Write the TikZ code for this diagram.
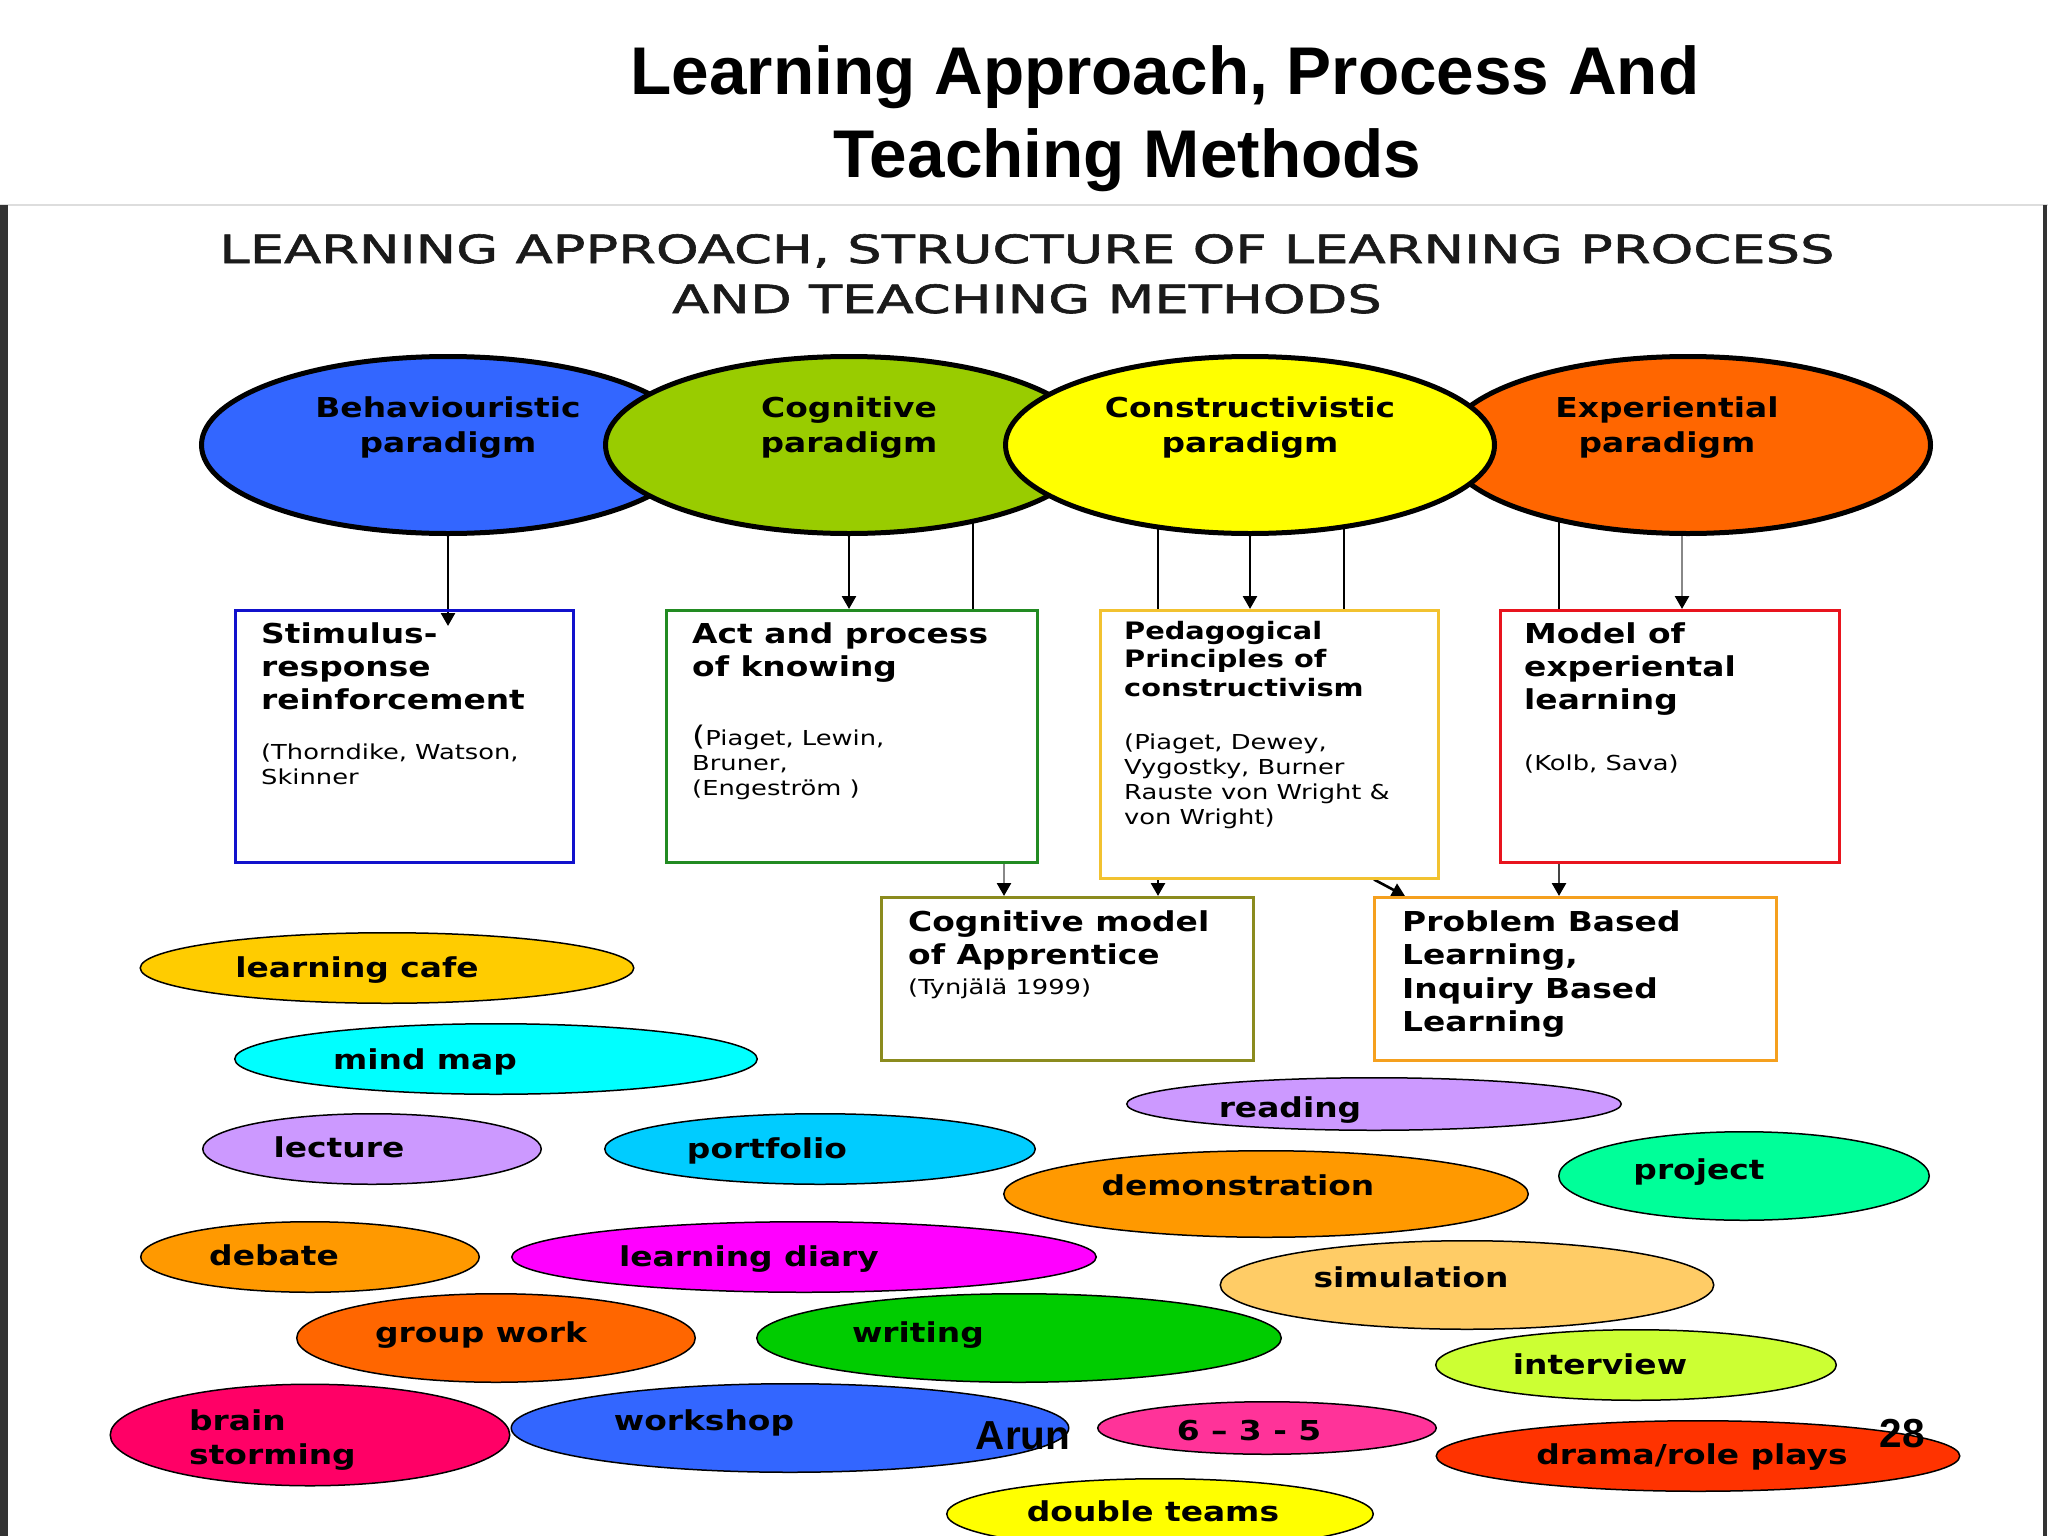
\documentclass[tikz,border=0pt]{standalone}
\usepackage{fontspec}
\usetikzlibrary{shapes.geometric,arrows.meta,backgrounds,calc}
\newfontfamily\titlefont{Liberation Sans}
\newfontfamily\subfont[FakeStretch=1.4,FakeBold=1.5]{DejaVu Sans}
\newfontfamily\labfont[FakeStretch=1.2]{DejaVu Sans}
\newfontfamily\reffont[FakeStretch=1.25]{DejaVu Sans}
\definecolor{cBlue}{HTML}{3366FF}
\definecolor{cGreen}{HTML}{99CC00}
\definecolor{cYellow}{HTML}{FFFF00}
\definecolor{cOrange}{HTML}{FF6600}
\definecolor{bOne}{HTML}{1111CC}
\definecolor{bTwo}{HTML}{228B22}
\definecolor{bThree}{HTML}{F2C230}
\definecolor{bFour}{HTML}{E8141E}
\definecolor{bFive}{HTML}{8B8B1E}
\definecolor{bSix}{HTML}{F5A01E}
\definecolor{mLc}{HTML}{FFCC00}
\definecolor{mMm}{HTML}{00FFFF}
\definecolor{mLec}{HTML}{CC99FF}
\definecolor{mPf}{HTML}{00CCFF}
\definecolor{mDem}{HTML}{FF9900}
\definecolor{mPrj}{HTML}{00FF99}
\definecolor{mLd}{HTML}{FF00FF}
\definecolor{mSim}{HTML}{FFCC66}
\definecolor{mGw}{HTML}{FF6600}
\definecolor{mWr}{HTML}{00CC00}
\definecolor{mIv}{HTML}{CCFF33}
\definecolor{mBs}{HTML}{FF0066}
\definecolor{mWs}{HTML}{3366FF}
\definecolor{mSix}{HTML}{FF3399}
\definecolor{mDr}{HTML}{FF3300}
\definecolor{mDt}{HTML}{FFFF00}
\definecolor{subgray}{HTML}{1A1A1A}
\definecolor{bargray}{HTML}{333333}
\definecolor{rulegray}{HTML}{DDDDDD}
\definecolor{conngray}{HTML}{888888}
\definecolor{conndark}{HTML}{444444}
\tikzset{
 bigell/.style={ellipse,draw=black,line width=5pt,inner sep=0pt},
 smell/.style={ellipse,draw=black,line width=1.5pt,inner sep=0pt},
 sbox/.style={rectangle,line width=2.5pt,inner sep=0pt,anchor=north west},
 conn/.style={line width=2.6pt,-{Triangle[length=13pt,width=14pt,color=black]}},
 bare/.style={line width=2.6pt},
 ptext/.style={font=\labfont\bfseries\fontsize{27.4pt}{35pt}\selectfont,align=center,inner sep=0pt,anchor=north},
 mtext/.style={font=\labfont\bfseries\fontsize{27.4pt}{33pt}\selectfont,align=left,inner sep=0pt,anchor=north west},
 mtextsm/.style={font=\labfont\bfseries\fontsize{24pt}{28.5pt}\selectfont,align=left,inner sep=0pt,anchor=north west},
 rtext/.style={font=\reffont\fontsize{20.6pt}{25pt}\selectfont,align=left,inner sep=0pt,anchor=north west},
 lab/.style={font=\labfont\bfseries\fontsize{27.4pt}{34pt}\selectfont,inner sep=0pt,text height=20pt,text depth=7pt},
 labml/.style={font=\labfont\bfseries\fontsize{27.4pt}{34pt}\selectfont,inner sep=0pt,align=left,anchor=west},
 bigtitle/.style={font=\titlefont\bfseries\fontsize{67.5pt}{80pt}\selectfont,inner sep=0pt,anchor=base},
 subtitle/.style={font=\subfont\fontsize{38.8pt}{50pt}\selectfont,text=subgray,inner sep=0pt,anchor=base},
 footer/.style={font=\titlefont\bfseries\fontsize{40.5pt}{48pt}\selectfont,inner sep=0pt,anchor=base},
}
\newcommand\methnode[9]{%
 \node[smell,fill=#6,minimum width={2*#4-1.5},minimum height={2*#5-1.5}] (#1) at (#2,#3) {};
 \node[lab] (#1t) at (#7,#8+3) {#9};}
\begin{document}
\begin{tikzpicture}[x=1pt,y=-1pt]
\useasboundingbox (0,0) rectangle (2048,1536);
% frame
\draw[rulegray,line width=2pt] (0,205) -- (2048,205);
\fill[bargray] (0,205) rectangle (8,1536);
\fill[bargray] (2043,205) rectangle (2047,1536);
% titles
\node[bigtitle] (title1) at (1165,95) {Learning Approach, Process And};
\node[bigtitle] (title2) at (1127.5,177) {Teaching Methods};
\node[subtitle] (sub1) at (1027,263) {LEARNING APPROACH, STRUCTURE OF LEARNING PROCESS};
\node[subtitle] (sub2) at (1027,313) {AND TEACHING METHODS};
% paradigms
\node[bigell,fill=cBlue,minimum width=493,minimum height=177] (e1) at (448,445) {};
\node[bigell,fill=cGreen,minimum width=487,minimum height=177] (e2) at (849,445) {};
\node[bigell,fill=cOrange,minimum width=485,minimum height=177] (e4) at (1688,445) {};
\node[bigell,fill=cYellow,minimum width=489,minimum height=177] (e3) at (1250,445) {};
\node[ptext] (e1t) at (448,396) {Behaviouristic\\paradigm};
\node[ptext] (e2t) at (849,396) {Cognitive\\paradigm};
\node[ptext] (e3t) at (1250,396) {Constructivistic\\paradigm};
\node[ptext] (e4t) at (1667,396) {Experiential\\paradigm};
% boxes
\node[sbox,draw=bOne,minimum width=338,minimum height=252] (s1) at (234,609) {};
\node[sbox,draw=bTwo,minimum width=371,minimum height=252] (s2) at (665,609) {};
\node[sbox,draw=bThree,minimum width=338,minimum height=268] (s3) at (1099,609) {};
\node[sbox,draw=bFour,minimum width=339,minimum height=252] (s4) at (1499,609) {};
\node[sbox,draw=bFive,minimum width=372,minimum height=163] (s5) at (880,896) {};
\node[sbox,draw=bSix,minimum width=402,minimum height=163] (s6) at (1373,896) {};
\node[mtext] (s1a) at (261,622) {Stimulus-\\response\\reinforcement};
\node[rtext] (s1b) at (261,744) {(Thorndike, Watson,\\Skinner};
\node[mtext] (s2a) at (692,622) {Act and process\\of knowing};
\node[rtext] (s2b) at (692,725) {{\fontsize{27pt}{25pt}\selectfont(}Piaget, Lewin,\\Bruner,\\(Engeström )};
\node[mtextsm] (s3a) at (1124,621) {Pedagogical\\Principles of\\constructivism};
\node[rtext] (s3b) at (1124,734) {(Piaget, Dewey,\\Vygostky, Burner\\Rauste von Wright \&\\von Wright)};
\node[mtext] (s4a) at (1524,622) {Model of\\experiental\\learning};
\node[rtext] (s4b) at (1524,755) {(Kolb, Sava)};
\node[mtext] (s5a) at (908,910) {Cognitive model\\of Apprentice};
\node[rtext] (s5b) at (908,979) {(Tynjälä 1999)};
\node[mtext,font=\labfont\bfseries\fontsize{27.4pt}{33.5pt}\selectfont] (s6a) at (1402,910) {Problem Based\\Learning,\\Inquiry Based\\Learning};
% helper coordinates
\coordinate (g2) at ($(e2.center)+(124,0)$);
\coordinate (y1) at ($(e3.center)+(-92,0)$);
\coordinate (y2) at ($(e3.center)+(94,0)$);
\coordinate (o1) at ($(e4.center)+(-129,0)$);
\coordinate (o2) at ($(e4.center)+(-6,0)$);
\coordinate (x1) at (1004,0);
\coordinate (x2) at (1158,0);
\coordinate (x3) at (1374,0);
\coordinate (x4) at (1405,0);
\coordinate (x5) at (1559,0);
\begin{pgfonlayer}{background}
\fill[white] (0,0) rectangle (2048,1536);
\draw[conn] (e1.center) -- ($(e1.center |- s1.north)+(0,17)$);
\draw[conn] (e2.center) -- (e2.center |- s2.north);
\draw[bare] (g2) -- (g2 |- s2.north);
\draw[bare] (y1) -- (y1 |- s3.north);
\draw[conn] (e3.center) -- (e3.center |- s3.north);
\draw[bare] (y2) -- (y2 |- s3.north);
\draw[bare] (o1) -- (o1 |- s4.north);
\draw[conn,draw=conngray] (o2) -- (o2 |- s4.north);
\draw[conn,draw=conngray] (x1 |- s2.south) -- (x1 |- s5.north);
\draw[conn] (x2 |- s3.south) -- (x2 |- s5.north);
\draw[conn] (x3 |- s3.south) -- (x4 |- s6.north);
\draw[conn,draw=conndark] (x5 |- s4.south) -- (x5 |- s6.north);
\end{pgfonlayer}
% methods
\methnode{lc}{387}{968}{247.5}{36}{mLc}{357}{968}{learning cafe}
\methnode{mm}{496}{1059}{262}{36}{mMm}{425}{1060}{mind map}
\methnode{lec}{372}{1149}{170}{36}{mLec}{339}{1148}{lecture}
\methnode{pf}{820}{1149}{216}{36}{mPf}{767}{1149}{portfolio}
\methnode{rd}{1374}{1104}{248}{27}{mLec}{1290}{1108}{reading}
\methnode{dem}{1266}{1194}{263}{44}{mDem}{1238}{1186}{demonstration}
\methnode{prj}{1744}{1176}{186}{45}{mPrj}{1699}{1170}{project}
\methnode{deb}{310}{1257}{170}{36}{mDem}{274}{1256}{debate}
\methnode{ld}{804}{1257}{293}{36}{mLd}{749}{1257}{learning diary}
\methnode{sim}{1467}{1285}{247.5}{45}{mSim}{1411}{1278}{simulation}
\methnode{gw}{496}{1338}{200}{45}{mGw}{481}{1333}{group work}
\methnode{wr}{1019}{1338}{263}{45}{mWr}{918}{1333}{writing}
\methnode{iv}{1636}{1365}{201}{36}{mIv}{1600}{1365}{interview}
\node[smell,fill=mBs,minimum width=399.5,minimum height=101.5] (bs) at (310,1435) {};
\node[labml] (bst) at (189,1440) {brain\\storming};
\methnode{ws}{790}{1428}{279.5}{45}{mWs}{704}{1421}{workshop}
\methnode{six}{1267}{1428}{170}{27}{mSix}{1249}{1431}{6 – 3 - 5}
\methnode{dr}{1698}{1456}{262.5}{36}{mDr}{1692}{1455}{drama/role plays}
\methnode{dt}{1160}{1514}{214}{36}{mDt}{1153}{1512}{double teams}
% footer
\node[footer] (arun) at (1023,1449) {Arun};
\node[footer] (pnum) at (1902,1447) {28};
\end{tikzpicture}
\end{document}
